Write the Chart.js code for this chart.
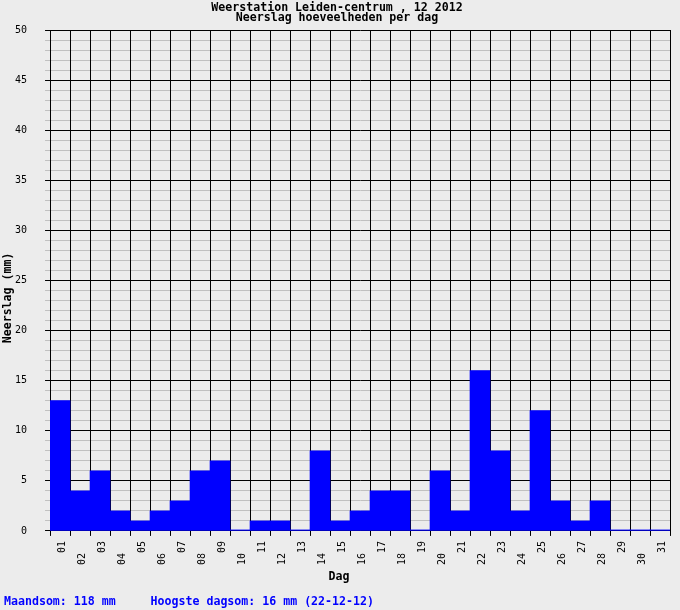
<!DOCTYPE html>
<html>
<head>
<meta charset="utf-8">
<script src="https://cdn.jsdelivr.net/npm/chart.js@4/dist/chart.umd.min.js"></script>
<style>
  html, body { margin: 0; padding: 0; background: #ececec; }
  #wrap { width: 680px; height: 610px; }
</style>
</head>
<body>
<div id="wrap"><canvas id="c" width="680" height="610"></canvas></div>
<script>
const days = ['01','02','03','04','05','06','07','08','09','10','11','12','13','14','15','16','17','18','19','20','21','22','23','24','25','26','27','28','29','30','31'];
const rainfall = [13,4,6,2,1,2,3,6,7,0,1,1,0,8,1,2,4,4,0,6,2,16,8,2,12,3,1,3,0,0,0];
const titleLines = ['Weerstation Leiden-centrum , 12 2012', 'Neerslag hoeveelheden per dag'];
const yTitle = 'Neerslag (mm)';
const xTitle = 'Dag';
const footer = 'Maandsom: 118 mm     Hoogste dagsom: 16 mm (22-12-12)';
const yMin = 0, yMax = 50, yMajor = 5;

const mono = "'DejaVu Sans Mono', 'Liberation Mono', monospace";

new Chart(document.getElementById('c'), {
  type: 'bar',
  data: {
    labels: days,
    datasets: [{
      data: rainfall,
      backgroundColor: '#0000ff',
      borderWidth: 0,
      barPercentage: 1,
      categoryPercentage: 1,
      minBarLength: 1
    }]
  },
  options: {
    responsive: false,
    devicePixelRatio: 1,
    animation: false,
    layout: { padding: { left: 4, right: 10, top: 0, bottom: 0 } },
    plugins: {
      legend: { display: false },
      tooltip: { enabled: false },
      title: {
        display: true,
        text: titleLines,
        color: '#000',
        font: { family: mono, size: 11.6, weight: 'bold', lineHeight: '10px' },
        padding: { top: 3, bottom: 7 }
      },
      subtitle: {
        display: true,
        position: 'bottom',
        align: 'start',
        text: footer,
        color: '#0000ff',
        font: { family: mono, size: 11.6, weight: 'bold', lineHeight: '12px' },
        padding: { top: 0, bottom: 2 }
      }
    },
    scales: {
      x: {
        grid: { offset: true, color: '#000', lineWidth: 1, tickLength: 5, drawOnChartArea: true, z: -1 },
        border: { color: '#000' },
        ticks: {
          autoSkip: false,
          maxRotation: 90,
          minRotation: 90,
          padding: 5,
          labelOffset: 2,
          color: '#000',
          font: { family: mono, size: 10 },
          callback: function (v, i) { return i % 2 === 1 ? days[i] + '  ' : days[i]; }
        },
        title: {
          display: true,
          text: xTitle + '      ',
          color: '#000',
          font: { family: mono, size: 11.6, weight: 'bold', lineHeight: '12px' },
          padding: { top: 1, bottom: 13 }
        }
      },
      y: {
        min: yMin,
        max: yMax,
        grid: {
          color: (ctx) => (ctx.tick && ctx.tick.value % yMajor === 0) ? '#000' : '#c0c0c0',
          lineWidth: 1,
          tickLength: 5,
          z: -2
        },
        border: { color: '#000' },
        ticks: {
          stepSize: 1,
          autoSkip: false,
          padding: 18,
          color: '#000',
          font: { family: mono, size: 10 },
          callback: (v) => (v % yMajor === 0 ? String(v) : '')
        },
        title: {
          display: true,
          text: yTitle + '     ',
          color: '#000',
          font: { family: mono, size: 11.6, weight: 'bold', lineHeight: '8px' },
          padding: { top: 0, bottom: -15 }
        }
      }
    }
  }
});
</script>
</body>
</html>
